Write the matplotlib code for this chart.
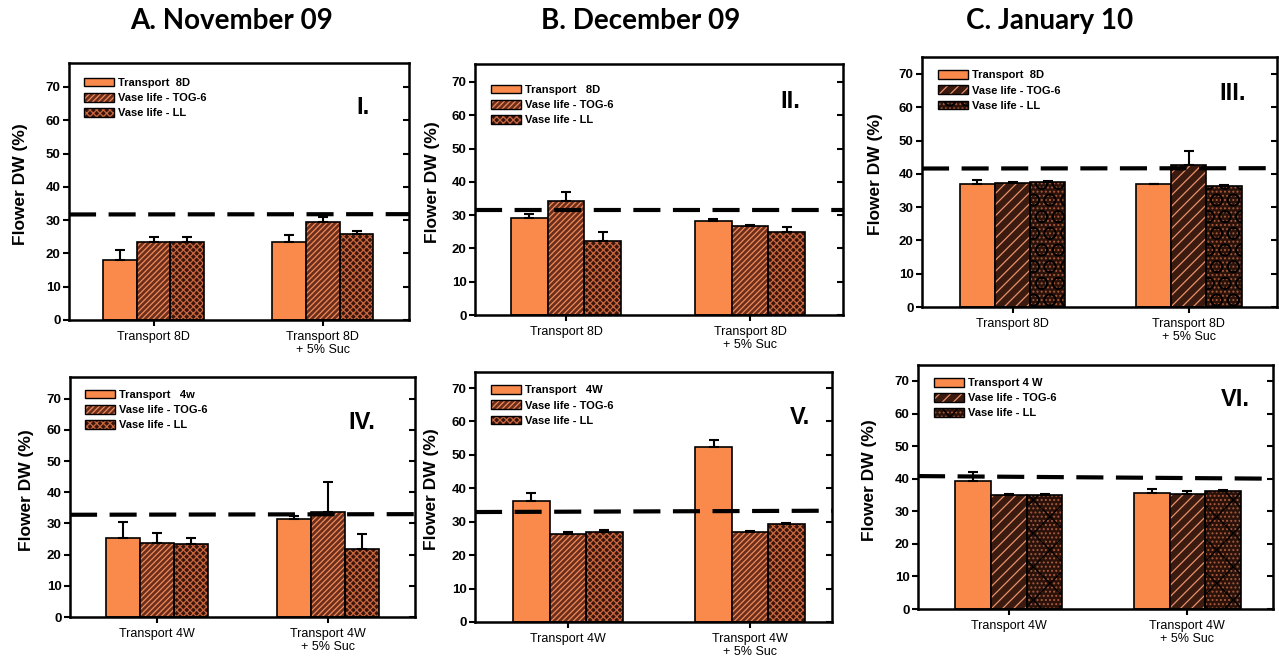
import matplotlib
matplotlib.use("Agg")
import matplotlib.pyplot as plt
from matplotlib.patches import Patch
from matplotlib.legend_handler import HandlerTuple

# ---------------- data ----------------
cats_8d = ["Transport 8D", "Transport 8D\n+ 5% Suc"]
cats_4w = ["Transport 4W", "Transport 4W\n+ 5% Suc"]

titles = ["A. November 09", "B. December 09", "C. January 10"]
panel_ids = ["I.", "II.", "III.", "IV.", "V.", "VI."]
legend_first = ["Transport  8D", "Transport   8D", "Transport  8D",
                "Transport   4w", "Transport   4W", "Transport 4 W"]
legend_tog = "Vase life - TOG-6"
legend_ll = "Vase life - LL"

transport_I = [18.0, 23.5];  transport_I_err = [3.0, 2.1]
tog_I = [23.5, 29.3];        tog_I_err = [1.4, 1.7]
ll_I = [23.5, 25.9];         ll_I_err = [1.4, 0.8]
ref_I = [31.7, 31.8]

transport_II = [29.0, 28.3]; transport_II_err = [1.4, 0.5]
tog_II = [34.2, 26.6];       tog_II_err = [2.8, 0.3]
ll_II = [22.2, 24.8];        ll_II_err = [2.6, 1.5]
ref_II = [31.4, 31.4]

transport_III = [36.8, 36.8]; transport_III_err = [1.4, 0.2]
tog_III = [37.3, 42.8];       tog_III_err = [0.15, 4.0]
ll_III = [37.7, 36.4];        ll_III_err = [0.3, 0.1]
ref_III = [41.6, 41.7]

transport_IV = [25.2, 31.5]; transport_IV_err = [5.2, 0.8]
tog_IV = [23.9, 33.7];       tog_IV_err = [3.2, 9.6]
ll_IV = [23.3, 21.9];        ll_IV_err = [2.1, 4.7]
ref_IV = [32.8, 33.0]

transport_V = [36.3, 52.5]; transport_V_err = [2.4, 2.0]
tog_V = [26.4, 26.9];       tog_V_err = [0.6, 0.4]
ll_V = [26.9, 29.3];        ll_V_err = [0.5, 0.4]
ref_V = [32.9, 33.3]

transport_VI = [39.2, 35.7]; transport_VI_err = [2.8, 1.2]
tog_VI = [35.0, 35.4];       tog_VI_err = [0.4, 0.9]
ll_VI = [35.0, 36.2];        ll_VI_err = [0.3, 0.3]
ref_VI = [40.8, 40.0]

yticks = [0, 10, 20, 30, 40, 50, 60, 70]

# ---------------- style ----------------
ORANGE = "#FA8A4C"
W, H = 1279, 664
plt.rcParams["hatch.linewidth"] = 0.9
plt.rcParams["font.family"] = ["Liberation Sans", "DejaVu Sans"]

fig = plt.figure(figsize=(W / 100, H / 100), dpi=100)

def px_axes(x0, y0, x1, y1):
    return fig.add_axes([x0 / W, 1 - y1 / H, (x1 - x0) / W, (y1 - y0) / H])

layout = [
    dict(box=(69, 63, 409, 320), ytop=77.2, xlim=(0.50, 2.51), ylx=-0.121, num=(0.885, 0.825), leg=0.955),
    dict(box=(475, 64, 843, 315), ytop=75.4, xlim=(0.505, 2.505), ylx=-0.095, num=(0.883, 0.85), leg=0.93),
    dict(box=(922, 57, 1277, 307), ytop=75.1, xlim=(0.486, 2.50), ylx=-0.11, num=(0.913, 0.856), leg=0.96),
    dict(box=(70, 377, 415, 617), ytop=77.0, xlim=(0.49, 2.51), ylx=-0.104, num=(0.884, 0.81), leg=0.96),
    dict(box=(475, 372, 832, 622), ytop=74.8, xlim=(0.49, 2.45), ylx=-0.10, num=(0.94, 0.82), leg=0.96),
    dict(box=(918, 365, 1273, 609), ytop=74.9, xlim=(0.49, 2.48), ylx=-0.115, num=(0.935, 0.857), leg=0.96),
]

data = [
    (transport_I, transport_I_err, tog_I, tog_I_err, ll_I, ll_I_err, ref_I, cats_8d),
    (transport_II, transport_II_err, tog_II, tog_II_err, ll_II, ll_II_err, ref_II, cats_8d),
    (transport_III, transport_III_err, tog_III, tog_III_err, ll_III, ll_III_err, ref_III, cats_8d),
    (transport_IV, transport_IV_err, tog_IV, tog_IV_err, ll_IV, ll_IV_err, ref_IV, cats_4w),
    (transport_V, transport_V_err, tog_V, tog_V_err, ll_V, ll_V_err, ref_V, cats_4w),
    (transport_VI, transport_VI_err, tog_VI, tog_VI_err, ll_VI, ll_VI_err, ref_VI, cats_4w),
]

BW = 0.2
xs = [1, 2]

def tog_style(col):
    if col == 2:
        return dict(face="#3b1a10", hatch="///", hcolor="#E8906A")
    return dict(face="#6b2e1c", hatch="//////", hcolor="#F08A58")

def ll_styles(col, row):
    if col == 2 and row == 0:
        return [dict(face="#2a120a", hatch="....", hcolor="#A85A3C"),
                dict(face="none", hatch="O", hcolor="#000000")]
    if col == 2 and row == 1:
        return [dict(face="#2a120a", hatch="....", hcolor="#A85A3C"),
                dict(face="none", hatch="x", hcolor="#000000")]
    return [dict(face="#3a150b", hatch="xxxxx", hcolor="#C8673F")]

for i, (lay, d) in enumerate(zip(layout, data)):
    row, col = divmod(i, 3)
    tr, tre, tg, tge, ll, lle, ref, cats = d
    ax = px_axes(*lay["box"])
    ax.set_xlim(*lay["xlim"])
    ax.set_ylim(0, lay["ytop"])

    xo = [x - BW for x in xs]
    xt = list(xs)
    xl = [x + BW for x in xs]

    ax.bar(xo, tr, BW, color=ORANGE, edgecolor="black", linewidth=1.2, zorder=2)
    ts = tog_style(col)
    ax.bar(xt, tg, BW, color=ts["face"], edgecolor=ts["hcolor"], hatch=ts["hatch"],
           linewidth=0, zorder=2)
    ax.bar(xt, tg, BW, fill=False, edgecolor="black", linewidth=1.2, zorder=3)
    lstyles = ll_styles(col, row)
    for s in lstyles:
        ax.bar(xl, ll, BW, color=s["face"], edgecolor=s["hcolor"], hatch=s["hatch"],
               linewidth=0, zorder=2)
    ax.bar(xl, ll, BW, fill=False, edgecolor="black", linewidth=1.2, zorder=3)

    for xx, vv, ee in ((xo, tr, tre), (xt, tg, tge), (xl, ll, lle)):
        ax.errorbar(xx, vv, yerr=[[0] * len(ee), ee], fmt="none", ecolor="black",
                    elinewidth=1.5, capsize=3.5, capthick=1.5, zorder=4)

    ax.plot(lay["xlim"], ref, color="black", lw=3.0, linestyle=(0, (6.5, 3.0)),
            zorder=5, solid_capstyle="butt", dash_capstyle="butt")

    for sp in ax.spines.values():
        sp.set_linewidth(1.8)
    ax.set_yticks(yticks)
    ax.set_yticklabels([str(v) for v in yticks], fontsize=9.5, fontweight="bold")
    ax.tick_params(axis="y", which="both", direction="out", length=4, width=1.5,
                   right=True, pad=2)
    ax.tick_params(axis="y", which="both", labelright=False)
    for t in ax.yaxis.get_ticklines()[1::2]:
        t.set_marker(0)
    ax.set_xticks(xs)
    ax.set_xticklabels(cats, fontsize=9, linespacing=1.05)
    ax.tick_params(axis="x", direction="out", length=4, width=1.5, pad=4)

    ax.set_ylabel("Flower DW (%)", fontsize=12.5, fontweight="bold")
    ax.yaxis.set_label_coords(lay["ylx"], 0.53)

    ax.text(lay["num"][0], lay["num"][1], panel_ids[i], transform=ax.transAxes,
            ha="right", va="center", fontsize=17, fontweight="bold")

    h1 = Patch(facecolor=ORANGE, edgecolor="black", linewidth=1.0)
    h2 = (Patch(facecolor=ts["face"], edgecolor=ts["hcolor"], hatch=ts["hatch"], linewidth=0),
          Patch(facecolor="none", edgecolor="black", linewidth=1.0))
    h3 = tuple(Patch(facecolor=s["face"], edgecolor=s["hcolor"], hatch=s["hatch"], linewidth=0)
               for s in lstyles) + (Patch(facecolor="none", edgecolor="black", linewidth=1.0),)
    ax.legend([h1, h2, h3], [legend_first[i], legend_tog, legend_ll],
              handler_map={tuple: HandlerTuple(ndivide=1, pad=0)},
              loc="upper left", bbox_to_anchor=(0.035, lay["leg"]), frameon=False,
              prop=dict(weight="bold", size=8), handlelength=2.7, handleheight=0.8,
              labelspacing=0.45, handletextpad=0.35, borderaxespad=0.0, borderpad=0.3)

title_x = [232, 641, 1050]
for tx, tt in zip(title_x, titles):
    fig.text(tx / W, 1 - 21 / H, tt, ha="center", va="center", fontsize=20,
             fontweight="bold", family=["Lato", "DejaVu Sans"])

fig.savefig("out.png", dpi=100)
